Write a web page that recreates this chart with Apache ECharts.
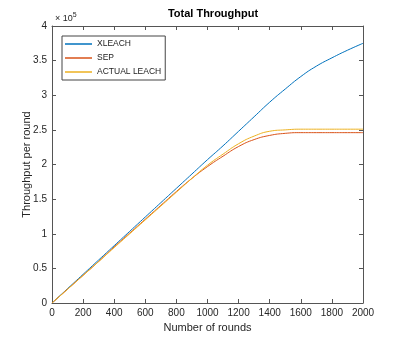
<!DOCTYPE html>
<html><head><meta charset="utf-8">
<script src="https://cdn.jsdelivr.net/npm/echarts@6/dist/echarts.min.js"></script>
<style>html,body{margin:0;padding:0;background:#fff}#c{width:402px;height:340px}</style>
</head><body><div id="c"></div>
<script>
const rounds = [0,100,200,300,400,500,600,700,800,900,1000,1100,1200,1300,1400,1500,1600,1700,1800,1900,2000];
const xleach = [0,0.207,0.414,0.621,0.828,1.035,1.242,1.449,1.656,1.863,2.07,2.27,2.48,2.69,2.90,3.09,3.27,3.42,3.54,3.65,3.75];
const sep = [0,0.2,0.4,0.6,0.81,1.01,1.21,1.41,1.61,1.80,1.97,2.12,2.26,2.36,2.42,2.45,2.46,2.46,2.46,2.46,2.46];
const actual = [0,0.198,0.398,0.598,0.80,1.00,1.20,1.40,1.60,1.80,1.99,2.15,2.30,2.41,2.48,2.50,2.51,2.51,2.51,2.51,2.51];
const seriesNames = ['XLEACH','SEP','ACTUAL LEACH'];
const xTicks = [0,200,400,600,800,1000,1200,1400,1600,1800,2000];
const yTicks = [0,0.5,1,1.5,2,2.5,3,3.5,4];
const colors = ['#0072BD','#D95319','#EDB120'];

const pair = arr => rounds.map((r,i)=>[r,arr[i]]);
const font = 'Liberation Sans, Arial, sans-serif';
const axisCommon = {
  axisLine:{show:true,onZero:false,lineStyle:{color:'#555',width:1}},
  axisTick:{show:true,inside:true,length:4,lineStyle:{color:'#555'}},
  splitLine:{show:false}
};
const chart = echarts.init(document.getElementById('c'));
chart.setOption({
  backgroundColor:'#fff',
  animation:false,
  title:{text:'Total Throughput',left:208,top:3,textAlign:'center',
    textStyle:{fontFamily:font,fontSize:11,fontWeight:'bold',color:'#000'}},
  grid:{left:52,right:39,top:26,bottom:37},
  legend:{orient:'vertical',left:62,top:36,data:seriesNames,icon:'rect',
    backgroundColor:'#fff',borderColor:'#444',borderWidth:1,
    padding:[3,4,3,3],itemGap:4,itemWidth:27,itemHeight:1.5,
    textStyle:{fontFamily:font,fontSize:8.5,color:'#222',lineHeight:10}},
  xAxis:[
    Object.assign({type:'value',min:0,max:2000,interval:200,position:'bottom',
      name:'Number of rounds',nameLocation:'middle',nameGap:17,
      nameTextStyle:{fontFamily:font,fontSize:11,color:'#262626'},
      axisLabel:{fontFamily:font,fontSize:10,color:'#262626',margin:5,
        formatter:v=>xTicks.includes(v)?String(v):''}},axisCommon),
    Object.assign({type:'value',min:0,max:2000,interval:200,position:'top',
      axisLabel:{show:false}},axisCommon)
  ],
  yAxis:[
    Object.assign({type:'value',min:0,max:4,interval:0.5,position:'left',
      name:'Throughput per round',nameLocation:'middle',nameGap:20,nameMoveOverlap:false,
      nameTextStyle:{fontFamily:font,fontSize:11,color:'#262626'},
      axisLabel:{fontFamily:font,fontSize:10,color:'#262626',margin:5,
        formatter:v=>yTicks.includes(v)?String(v):''}},axisCommon),
    Object.assign({type:'value',min:0,max:4,interval:0.5,position:'right',
      axisLabel:{show:false}},axisCommon)
  ],
  graphic:[{type:'text',left:55,top:12,style:{
    text:'× 10{s|5}',rich:{s:{fontSize:7,verticalAlign:'top',padding:[0,0,6,0]}},
    font:'9px '+font,fill:'#262626'}}],
  series:[
    {name:seriesNames[0],type:'line',data:pair(xleach),smooth:true,symbol:'none',lineStyle:{width:1,color:colors[0]},itemStyle:{color:colors[0]}},
    {name:seriesNames[1],type:'line',data:pair(sep),smooth:true,symbol:'none',lineStyle:{width:1,color:colors[1]},itemStyle:{color:colors[1]}},
    {name:seriesNames[2],type:'line',data:pair(actual),smooth:true,symbol:'none',lineStyle:{width:1,color:colors[2]},itemStyle:{color:colors[2]}}
  ]
});
</script></body></html>
